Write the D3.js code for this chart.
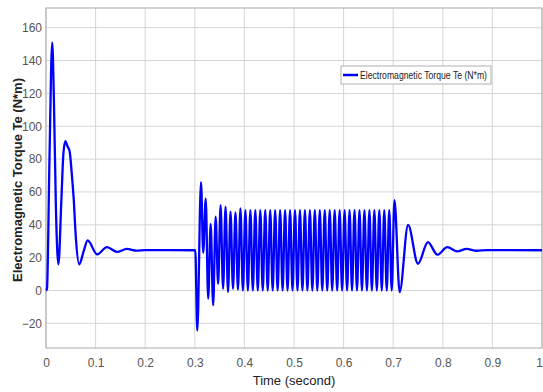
<!DOCTYPE html>
<html>
<head>
<meta charset="utf-8">
<script src="https://cdn.jsdelivr.net/npm/d3@7"></script>
<style>
  body { margin: 0; background: #fff; }
  .tick text { font-family: "Liberation Sans Narrow", "Liberation Sans", Arial, sans-serif; font-size: 12px; fill: #555; }
</style>
</head>
<body>
<div id="chart"></div>
<script>
// Electromagnetic torque (peaks, troughs and a few shape points)
const timeStart = [0, 0.002, 0.007, 0.0125, 0.016, 0.02, 0.025, 0.031, 0.035, 0.039, 0.043, 0.0475,
  0.052, 0.056, 0.06, 0.067, 0.076, 0.084, 0.103, 0.123, 0.143, 0.163, 0.183, 0.2, 0.3];
const torqueStart = [0, 1, 80, 151, 115, 50, 16, 55, 83, 91, 88, 85,
  71, 55, 33, 16, 24, 30.5, 22, 26.4, 23.5, 25.3, 24.3, 24.6, 24.5];

const timeFault = [0.301, 0.305, 0.3125, 0.317, 0.322, 0.327, 0.332, 0.337, 0.342, 0.347, 0.352, 0.357,
  0.362, 0.367, 0.372, 0.377, 0.382, 0.387, 0.392, 0.397,
  0.402, 0.407, 0.412, 0.417, 0.422, 0.427, 0.432, 0.437, 0.442, 0.447,
  0.452, 0.457, 0.462, 0.467, 0.472, 0.477, 0.482, 0.487, 0.492, 0.497,
  0.502, 0.507, 0.512, 0.517, 0.522, 0.527, 0.532, 0.537, 0.542, 0.547,
  0.552, 0.557, 0.562, 0.567, 0.572, 0.577, 0.582, 0.587, 0.592, 0.597,
  0.602, 0.607, 0.612, 0.617, 0.622, 0.627, 0.632, 0.637, 0.642, 0.647,
  0.652, 0.657, 0.662, 0.667, 0.672, 0.677, 0.682, 0.687, 0.692, 0.697];
const torqueFault = [24.5, -24.4, 66, 23, 56, -5, 40.5, -9, 45, 4, 52, 1,
  51, -1, 48, 1, 47.5, 0.5, 50, 0,
  49, 0, 49, 0, 49, 0, 49, 0, 49, 0,
  49, 0, 49, 0, 49, 0, 49, 0, 49, 0,
  49, 0, 49, 0, 49, 0, 49, 0, 49, 0,
  49, 0, 49, 0, 49, 0, 49, 0, 49, 0,
  49, 0, 49, 0, 49, 0, 49, 0, 49, 0,
  49, 0, 49, 0, 49, 0, 49, 0, 49, 0];

const timeEnd = [0.7025, 0.713, 0.73, 0.75, 0.77, 0.789, 0.809, 0.829, 0.848, 0.868, 0.89, 1.0];
const torqueEnd = [55, -1, 40, 16.3, 29.5, 21.8, 26.4, 23.8, 25.4, 24.2, 24.6, 24.5];

const xTicks = [0, 0.1, 0.2, 0.3, 0.4, 0.5, 0.6, 0.7, 0.8, 0.9, 1];
const yTicks = [-20, 0, 20, 40, 60, 80, 100, 120, 140, 160];
const seriesName = 'Electromagnetic Torque Te (N*m)';

const times = timeStart.concat(timeFault, timeEnd);
const torque = torqueStart.concat(torqueFault, torqueEnd);
const data = times.map((t, i) => ({ t: t, v: torque[i] }));

const W = 543, H = 392;
const margin = { top: 8, right: 1, bottom: 44, left: 46 };
const width = W - margin.left - margin.right;
const height = H - margin.top - margin.bottom;

const svg = d3.select('#chart').append('svg')
  .attr('width', W).attr('height', H);
const g = svg.append('g').attr('transform', `translate(${margin.left},${margin.top})`);

const x = d3.scaleLinear().domain([0, 1]).range([0, width]);
const y = d3.scaleLinear().domain([-35, 172]).range([height, 0]);

// grid
g.append('g').selectAll('line').data(xTicks).enter().append('line')
  .attr('x1', d => x(d)).attr('x2', d => x(d)).attr('y1', 0).attr('y2', height)
  .attr('stroke', '#d6d6d6').attr('stroke-width', 1);
g.append('g').selectAll('line').data(yTicks).enter().append('line')
  .attr('x1', 0).attr('x2', width).attr('y1', d => y(d)).attr('y2', d => y(d))
  .attr('stroke', '#d6d6d6').attr('stroke-width', 1);

// frame
g.append('rect').attr('width', width).attr('height', height)
  .attr('fill', 'none').attr('stroke', '#a8a8a8');

// axes
const xAxis = g.append('g').attr('transform', `translate(0,${height})`)
  .call(d3.axisBottom(x).tickValues(xTicks).tickSize(0).tickPadding(10).tickFormat(d3.format('')));
xAxis.select('.domain').remove();
// last label sits at the window edge; keep it fully inside
xAxis.selectAll('.tick').filter(d => d === 1).select('text').attr('dx', -3);

const yAxis = g.append('g')
  .call(d3.axisLeft(y).tickValues(yTicks).tickSize(0).tickPadding(4));
yAxis.select('.domain').remove();

// line
const line = d3.line().x(d => x(d.t)).y(d => y(d.v)).curve(d3.curveMonotoneX);
g.append('path').datum(data)
  .attr('fill', 'none').attr('stroke', '#0000ff').attr('stroke-width', 2.3)
  .attr('stroke-linejoin', 'round')
  .attr('d', line);

// axis labels
svg.append('text')
  .attr('x', margin.left + width / 2).attr('y', 385)
  .attr('text-anchor', 'middle')
  .style('font-family', '"Liberation Sans Narrow", "Liberation Sans", Arial, sans-serif')
  .style('font-size', '13px').style('fill', '#222')
  .text('Time (second)');

svg.append('text')
  .attr('transform', 'translate(22,180) rotate(-90)')
  .attr('text-anchor', 'middle')
  .style('font-family', '"Liberation Sans", Arial, sans-serif')
  .style('font-size', '13px').style('font-weight', 'bold').style('fill', '#222')
  .text(seriesName);

// legend
const lg = svg.append('g').attr('transform', 'translate(341,66)');
lg.append('rect').attr('width', 150).attr('height', 18)
  .attr('fill', '#fff').attr('stroke', '#b0b0b0');
lg.append('line').attr('x1', 2).attr('x2', 17).attr('y1', 9).attr('y2', 9)
  .attr('stroke', '#0000ff').attr('stroke-width', 2.5);
lg.append('text').attr('x', 19).attr('y', 13)
  .attr('textLength', 127).attr('lengthAdjust', 'spacingAndGlyphs')
  .style('font-family', '"Liberation Sans Narrow", "Liberation Sans", Arial, sans-serif')
  .style('font-size', '11px').style('fill', '#222')
  .text(seriesName);
</script>
</body>
</html>
